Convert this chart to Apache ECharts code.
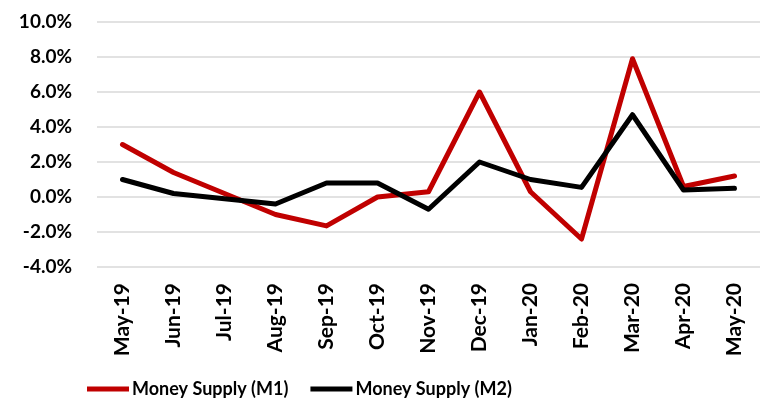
<!DOCTYPE html>
<html>
<head>
<meta charset="utf-8">
<script src="https://cdn.jsdelivr.net/npm/echarts@6/dist/echarts.min.js"></script>
<style>
  html, body { margin: 0; padding: 0; background: #fff; }
  #chart { width: 760px; height: 410px; }
</style>
</head>
<body>
<div id="chart"></div>
<script>
// months on the x axis
const months = ["May-19", "Jun-19", "Jul-19", "Aug-19", "Sep-19", "Oct-19", "Nov-19",
  "Dec-19", "Jan-20", "Feb-20", "Mar-20", "Apr-20", "May-20"];
// monthly growth, percent
const m1 = [3.0, 1.4, 0.2, -1.0, -1.65, 0.0, 0.3, 6.0, 0.3, -2.4, 7.9, 0.6, 1.2];
const m2 = [1.0, 0.2, -0.1, -0.4, 0.8, 0.8, -0.7, 2.0, 1.0, 0.55, 4.7, 0.4, 0.5];
const seriesNames = ["Money Supply (M1)", "Money Supply (M2)"];

const font = "Lato, 'Open Sans', sans-serif";
const chart = echarts.init(document.getElementById("chart"));

const option = {
  animation: false,
  grid: {
    left: 97,
    right: -4,
    top: 22,
    bottom: 143,
  },
  legend: {
    data: seriesNames,
    left: 82,
    bottom: 7,
    icon: "rect",
    itemWidth: 42,
    itemHeight: 5,
    itemGap: 22,
    textStyle: {
      fontFamily: font,
      fontWeight: "bold",
      fontSize: 18,
      color: "#000",
      padding: [0, 0, 0, -2],
    },
  },
  xAxis: {
    type: "category",
    data: months,
    boundaryGap: true,
    axisLine: { show: false },
    axisTick: { show: false },
    axisLabel: {
      rotate: 90,
      margin: 16,
      fontFamily: font,
      fontWeight: "bold",
      fontSize: 21,
      color: "#000",
      interval: 0,
    },
  },
  yAxis: {
    type: "value",
    min: -4,
    max: 10,
    interval: 2,
    axisLine: { show: false },
    axisTick: { show: false },
    splitLine: { lineStyle: { color: "#d9d9d9", width: 1.5 } },
    axisLabel: {
      margin: 25,
      fontFamily: font,
      fontWeight: "bold",
      fontSize: 19,
      color: "#000",
      formatter: (v) => v.toFixed(1) + "%",
    },
  },
  series: [
    {
      name: seriesNames[0],
      type: "line",
      data: m1,
      symbol: "none",
      color: "#c00000",
      lineStyle: { width: 5, color: "#c00000", cap: "round", join: "round" },
      z: 2,
    },
    {
      name: seriesNames[1],
      type: "line",
      data: m2,
      symbol: "none",
      color: "#000000",
      lineStyle: { width: 5, color: "#000000", cap: "round", join: "round" },
      z: 3,
    },
  ],
};
chart.setOption(option);
</script>
</body>
</html>
